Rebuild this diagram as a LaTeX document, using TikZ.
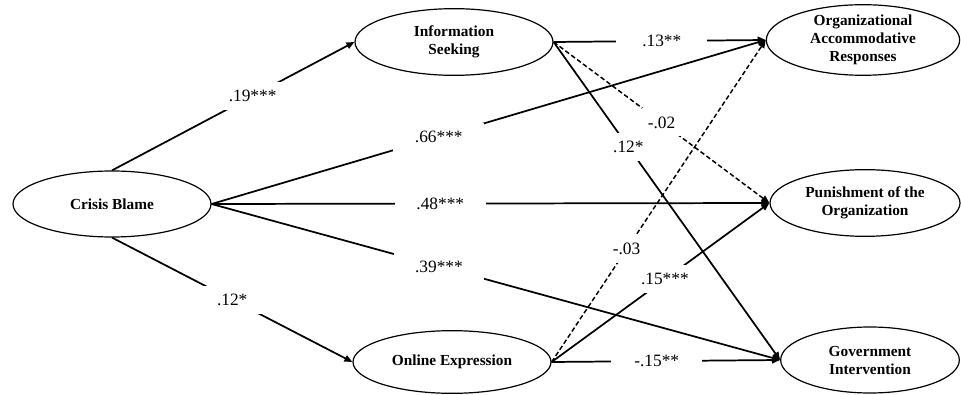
\documentclass[tikz,border=0pt]{standalone}
\usepackage{fontspec}
\setmainfont{Liberation Serif}
\usetikzlibrary{shapes.geometric,arrows.meta}
\begin{document}
\begin{tikzpicture}[x=0.75pt,y=-0.75pt,
  var/.style={ellipse,draw,line width=0.9pt,inner sep=0pt,align=center,
    font=\bfseries\fontsize{11.5}{13.5}\selectfont},
  path/.style={line width=1.3pt,-{Triangle[length=6pt,width=5pt]}},
  dpath/.style={path,line width=1.1pt,dash pattern=on 3.5pt off 2pt},
  coef/.style={fill=white,inner sep=0pt,minimum width=68pt,minimum height=21pt,
    font=\fontsize{13}{15}\selectfont},
  coefn/.style={coef,minimum width=30pt}]
\useasboundingbox (0,0) rectangle (961,395);
\node[var,minimum width=148.5pt,minimum height=49.5pt] (cb) at (112,204) {Crisis Blame};
\node[var,minimum width=148.5pt,minimum height=50pt] (is) at (454,42) {Information\\Seeking};
\node[var,minimum width=148.5pt,minimum height=47pt] (oe) at (452,362) {Online Expression};
\node[var,minimum width=145pt,minimum height=48pt] (org) at (863,40) {Organizational\\Accommodative\\Responses};
\node[var,minimum width=142.5pt,minimum height=50pt] (pun) at (865,203) {Punishment of the\\Organization};
\node[var,minimum width=134pt,minimum height=49.5pt] (gov) at (870,360) {Government\\Intervention};

\draw[path] (cb.north) -- node[coef,pos=0.58]{.19***} (is.west);
\draw[path] (cb.south) -- node[coef,pos=0.5]{.12*} (oe.west);
\draw[path] (cb.east) -- node[coef,pos=0.41]{.66***} (org.west);
\draw[path] (cb.east) -- node[coef,pos=0.41]{.48***} (pun.west);
\draw[path] (cb.east) -- node[coef,pos=0.40]{.39***} (gov.west);

\draw[path] (is.east) -- node[coef,pos=0.51]{.13**} (org.west);
\draw[dpath] (is.east) -- node[coefn,pos=0.5]{-.02} (pun.west);
\draw[path] (is.east) -- node[coefn,pos=0.33]{.12*} (gov.west);

\draw[dpath] (oe.east) -- node[coefn,pos=0.35]{-.03} (org.west);
\draw[path] (oe.east) -- node[coef,pos=0.52]{.15***} (pun.west);
\draw[path] (oe.east) -- node[coef,pos=0.46]{-.15**} (gov.west);
\end{tikzpicture}
\end{document}
